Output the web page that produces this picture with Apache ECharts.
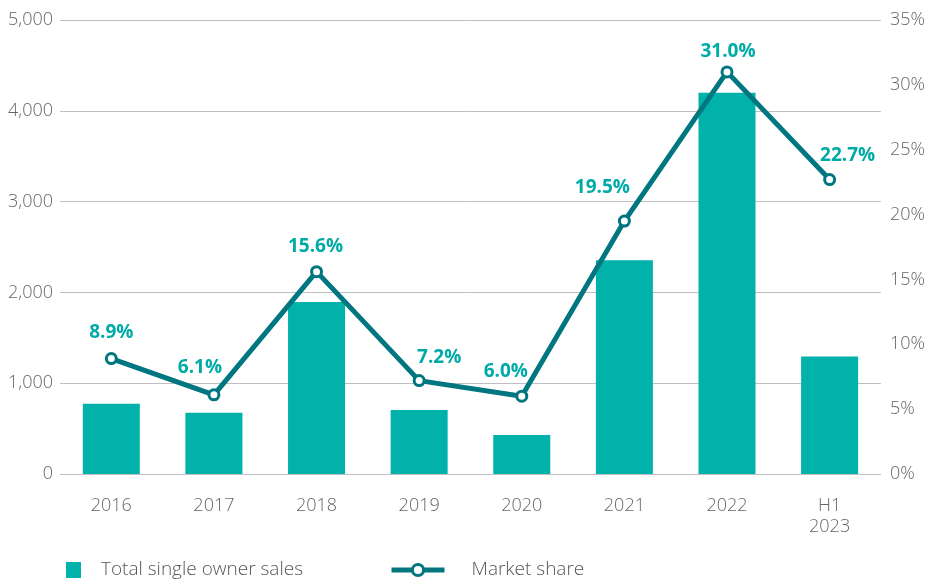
<!DOCTYPE html>
<html><head><meta charset="utf-8">
<script src="https://cdn.jsdelivr.net/npm/echarts@6/dist/echarts.min.js"></script>
<style>html,body{margin:0;padding:0;background:#fff}#c{width:928px;height:583px}</style>
</head><body><div id="c"></div>
<script>
const categories = ['2016','2017','2018','2019','2020','2021','2022','H1\n2023'];
const salesValues = [775, 675, 1895, 705, 430, 2355, 4200, 1295];
const shareValues = [8.9, 6.1, 15.6, 7.2, 6.0, 19.5, 31.0, 22.7];
const leftTicks = [0, 1000, 2000, 3000, 4000, 5000];
const rightTicks = [0, 5, 10, 15, 20, 25, 30, 35];

// label placement tweaks (styling only)
const labelOffsets = [[0,-26],[-14,-27],[-1,-25],[20,-23],[-16,-25],[-22,-33],[1,-20],[18,-24]];

const chart = echarts.init(document.getElementById('c'));
const font = '"Open Sans", sans-serif';
const gray = '#63666A';
const legendText = { fontFamily: font, fontSize: 19, color: '#53565A', fontWeight: 300, lineHeight: 20 };
chart.setOption({
  animation: false,
  textStyle: { fontFamily: font },
  grid: { left: 60, right: 46, top: 20, bottom: 109, containLabel: false },
  legend: [
    { left: 61, top: 555, itemWidth: 15, itemHeight: 16,
      textStyle: Object.assign({ padding: [0,0,0,15] }, legendText),
      data: [{ name: 'Total single owner sales', icon: 'rect' }] },
    { left: 384, top: 555, itemWidth: 53, itemHeight: 14,
      textStyle: Object.assign({ padding: [0,0,0,22] }, legendText),
      data: [{ name: 'Market share', lineStyle: { width: 5, color: '#007680' },
               itemStyle: { color: '#fff', borderColor: '#007680', borderWidth: 3 } }] }
  ],
  xAxis: {
    type: 'category', data: categories,
    axisLine: { show: false }, axisTick: { show: false },
    axisLabel: { color: gray, fontSize: 18, margin: 21, lineHeight: 21, fontFamily: font, fontWeight: 300 }
  },
  yAxis: [
    { type: 'value', min: leftTicks[0], max: leftTicks[leftTicks.length-1], interval: 1000,
      axisLabel: { color: gray, fontSize: 18, margin: 7, fontFamily: font, fontWeight: 300,
        formatter: v => v.toLocaleString('en-US') },
      splitLine: { lineStyle: { color: '#BFBFBF', width: 1 } },
      axisLine: { show: false }, axisTick: { show: false } },
    { type: 'value', min: rightTicks[0], max: rightTicks[rightTicks.length-1], interval: 5,
      axisLabel: { color: gray, fontSize: 18, margin: 9, fontFamily: font, fontWeight: 300, formatter: v => v + '%' },
      splitLine: { show: false }, axisLine: { show: false }, axisTick: { show: false } }
  ],
  series: [
    { name: 'Total single owner sales', type: 'bar', data: salesValues, barWidth: 57,
      itemStyle: { color: '#00B2A9' } },
    { name: 'Market share', type: 'line', yAxisIndex: 1,
      data: shareValues.map((v, i) => ({ value: v, label: { offset: labelOffsets[i] } })),
      symbol: 'circle', symbolSize: 10,
      lineStyle: { color: '#007680', width: 5 },
      itemStyle: { color: '#fff', borderColor: '#007680', borderWidth: 3 },
      label: { show: true, position: 'inside', color: '#00ABA7', fontWeight: 'bold',
        fontSize: 19, fontFamily: font, formatter: p => p.value.toFixed(1) + '%' } }
  ]
});
</script></body></html>
